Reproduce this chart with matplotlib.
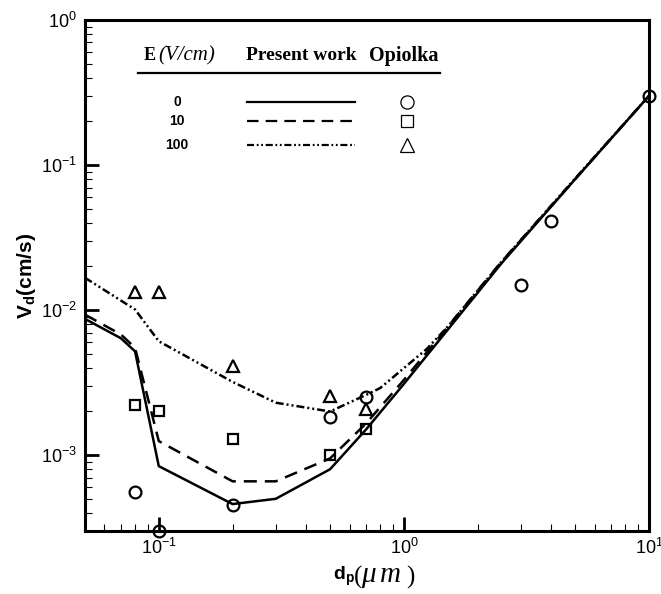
import matplotlib
matplotlib.use("Agg")
import matplotlib.pyplot as plt
from matplotlib.ticker import LogLocator, NullFormatter

plt.rcParams['font.family'] = ['Liberation Sans', 'DejaVu Sans']
plt.rcParams['mathtext.fontset'] = 'custom'
plt.rcParams['mathtext.rm'] = 'Liberation Sans'
plt.rcParams['mathtext.it'] = 'Liberation Sans:italic'
plt.rcParams['mathtext.bf'] = 'Liberation Sans:bold'

# deposition velocity curves (present work), one per field strength
dp_e0 = [0.05, 0.07, 0.08, 0.1, 0.2, 0.3, 0.5, 0.7, 1.0, 2.5, 5.0, 10.0]
vd_e0 = [8.7e-3, 6.4e-3, 5.2e-3, 8.4e-4, 4.6e-4, 5.0e-4, 8.0e-4, 1.5e-3, 3.1e-3, 2.1e-2, 8.0e-2, 0.3]

dp_e10 = [0.05, 0.07, 0.08, 0.1, 0.2, 0.3, 0.5, 0.7, 1.0, 2.5, 5.0, 10.0]
vd_e10 = [9.3e-3, 6.8e-3, 5.5e-3, 1.25e-3, 6.6e-4, 6.6e-4, 9.5e-4, 1.65e-3, 3.3e-3, 2.15e-2, 8.0e-2, 0.3]

dp_e100 = [0.05, 0.08, 0.1, 0.2, 0.3, 0.5, 0.7, 0.8, 1.24, 1.5, 2.5, 5.0, 10.0]
vd_e100 = [0.0167, 0.0101, 6.1e-3, 3.2e-3, 2.3e-3, 2.0e-3, 2.6e-3, 2.9e-3, 5.4e-3, 7.6e-3, 2.15e-2, 8.1e-2, 0.3]

# Opiolka measurements
op_dp_e0 = [0.08, 0.1, 0.2, 0.5, 0.7, 3.0, 4.0, 10.0]
op_vd_e0 = [5.6e-4, 3.0e-4, 4.5e-4, 1.82e-3, 2.52e-3, 0.015, 0.041, 0.3]

op_dp_e10 = [0.08, 0.1, 0.2, 0.5, 0.7]
op_vd_e10 = [2.22e-3, 2.02e-3, 1.30e-3, 1.0e-3, 1.52e-3]

op_dp_e100 = [0.08, 0.1, 0.2, 0.5, 0.7]
op_vd_e100 = [0.0133, 0.0133, 4.1e-3, 2.56e-3, 2.07e-3]

field_labels = ['0', '10', '100']

W, H = 661, 594
fig = plt.figure(figsize=(W / 100, H / 100), dpi=100)
ax = fig.add_axes([85 / W, 1 - 531 / H, 564 / W, 511 / H])

def px(x, y):
    return x / W, 1 - y / H

lw = 1.8
dashed = (0, (5.2, 3.2))
dashdotdot = (0, (3.2, 1.2, 0.8, 1.2, 0.8, 1.2))
styles = ['-', dashed, dashdotdot]
markers = ['o', 's', '^']

ax.plot(dp_e0, vd_e0, color='k', lw=lw, ls=styles[0])
ax.plot(dp_e10, vd_e10, color='k', lw=lw, ls=styles[1])
ax.plot(dp_e100, vd_e100, color='k', lw=lw, ls=styles[2])

mk = dict(ls='none', mfc='none', mec='k', mew=1.6, clip_on=False)
ax.plot(op_dp_e0, op_vd_e0, marker='o', ms=8.5, **mk)
ax.plot(op_dp_e10, op_vd_e10, marker='s', ms=7.5, **mk)
ax.plot(op_dp_e100, op_vd_e100, marker='^', ms=8.5, **mk)

ax.set_xscale('log')
ax.set_yscale('log')
ax.set_xlim(0.05, 10)
ax.set_ylim(3e-4, 1)

ax.xaxis.set_major_locator(LogLocator(base=10, numticks=10))
ax.yaxis.set_major_locator(LogLocator(base=10, numticks=10))
ax.xaxis.set_minor_locator(LogLocator(base=10, subs=range(2, 10), numticks=20))
ax.yaxis.set_minor_locator(LogLocator(base=10, subs=range(2, 10), numticks=20))
ax.xaxis.set_minor_formatter(NullFormatter())
ax.yaxis.set_minor_formatter(NullFormatter())

ax.tick_params(which='major', direction='in', length=10, width=2, labelsize=13,
               top=False, right=False)
ax.tick_params(which='minor', direction='in', length=5, width=0.8,
               top=False, right=False)
ax.tick_params(axis='y', which='major', pad=6)
ax.tick_params(axis='x', which='major', pad=5)
for s in ax.spines.values():
    s.set_linewidth(2.2)

ax.set_ylabel(r'$\mathbf{V_d}$(cm/s)', fontsize=15, fontweight='bold', labelpad=2)

# x label: bold sans symbol followed by serif italic unit, set glyph by glyph
fig.text(*px(333, 580), r'$\mathbf{d_p}$', fontsize=14, ha='left', va='baseline')
serif = dict(family='Liberation Serif', ha='left', va='baseline')
fig.text(*px(354, 584), '(', fontsize=18, **serif)
fig.text(*px(361, 582), 'μ', fontsize=21, style='italic', **serif)
fig.text(*px(380, 582), 'm', fontsize=21, style='italic', **serif)
fig.text(*px(406, 584), ')', fontsize=18, **serif)

# key table
hdr = dict(family='Liberation Serif', va='center')
fig.text(*px(144, 56), 'E', fontsize=13, weight='bold', ha='left', **hdr)
fig.text(*px(158, 56), '(V/cm)', fontsize=15, style='italic', ha='left', **hdr)
fig.text(*px(301, 55), 'Present work', fontsize=14, weight='bold', ha='center', **hdr)
fig.text(*px(404, 56), 'Opiolka', fontsize=14.5, weight='bold', ha='center', **hdr)
x0, y0 = px(138, 73)
x1, _ = px(440, 73)
ax.plot([x0, x1], [y0, y0], color='k', lw=1.6, transform=fig.transFigure, clip_on=False)

row_y = [102, 121, 145]
for lab, ls, m, yy in zip(field_labels, styles, markers, row_y):
    fig.text(*px(177, yy), lab, fontsize=10, weight='bold', ha='center', va='center')
    lx0, ly = px(247, yy)
    lx1, _ = px(355, yy)
    ax.plot([lx0, lx1], [ly, ly], color='k', lw=1.6, ls=ls,
            transform=fig.transFigure, clip_on=False)
    mx, my = px(407, yy)
    ax.plot([mx], [my], marker=m, ms=9.5 if m != 's' else 9, mfc='none', mec='k',
            mew=0.9, transform=fig.transFigure, clip_on=False)

fig.savefig('out.png', dpi=100)
